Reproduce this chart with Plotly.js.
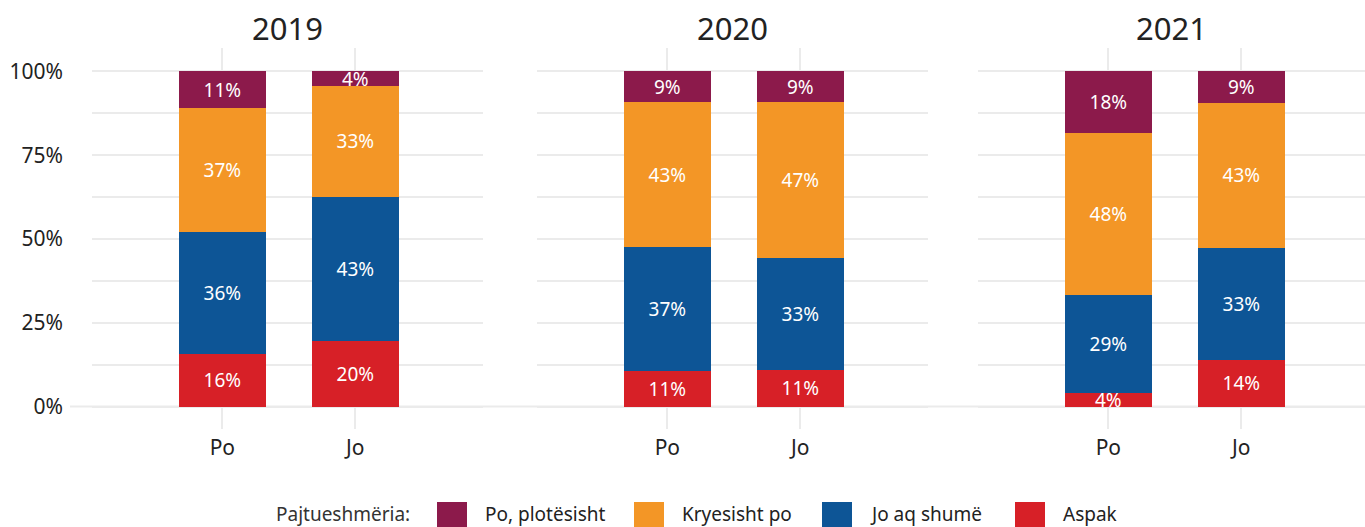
<!DOCTYPE html>
<html>
<head>
<meta charset="utf-8">
<script src="https://cdn.plot.ly/plotly-3.0.1.min.js"></script>
<style>
  html, body { margin: 0; padding: 0; background: #fff; }
  #chart { width: 1365px; height: 527px; }
</style>
</head>
<body>
<div id="chart"></div>
<script>
// facets and categories
var years = ['2019', '2020', '2021'];
var answers = ['Po', 'Jo'];

// share of answers, one pair [Po, Jo] per year
var aspak        = [[15.8, 19.6], [10.6, 11.0], [4.0, 13.9]];
var joAqShume    = [[36.2, 43.0], [37.0, 33.2], [29.2, 33.4]];
var kryesishtPo  = [[37.2, 33.0], [43.2, 46.8], [48.4, 43.4]];
var poPlotesisht = [[10.8, 4.4],  [9.2, 9.0],   [18.4, 9.3]];

// stacking order: bottom to top
var seriesNames = ['Aspak', 'Jo aq shumë', 'Kryesisht po', 'Po, plotësisht'];
var seriesData = [aspak, joAqShume, kryesishtPo, poPlotesisht];
var seriesColors = ['#d72027', '#0d5596', '#f39626', '#8c1a4b'];

// y axis ticks
var yTickVals = [0, 25, 50, 75, 100];
var yTickText = ['0%', '25%', '50%', '75%', '100%'];

// legend order as shown below the chart
var legendOrder = [3, 2, 1, 0];
var legendTitle = 'Pajtueshmëria:';

var W = 1365, H = 527;
var plotTop = 48, plotBottom = 429;
function px2x(px) { return px / W; }
function px2y(px) { return (plotBottom - px) / (plotBottom - plotTop); }

var font = 'Noto Sans, sans-serif';
var gridColor = '#ebebeb';

var traces = [];
seriesData.forEach(function(series, s) {
    years.forEach(function(yr, i) {
        traces.push({
            type: 'bar',
            name: seriesNames[s],
            x: answers,
            y: series[i],
            xaxis: i === 0 ? 'x' : 'x' + (i + 1),
            yaxis: 'y',
            width: 0.65,
            marker: { color: seriesColors[s], line: { width: 0 } },
            texttemplate: '%{y:.0f}%',
            textposition: 'inside',
            insidetextanchor: 'middle',
            constraintext: 'none',
            textangle: 0,
            textfont: { color: '#ffffff', size: 19, family: font },
            showlegend: false,
            hoverinfo: 'skip'
        });
    });
});

var domains = [[92, 483], [537, 928], [978, 1365]];
var ranges = [[-0.98, 1.96], [-0.98, 1.96], [-0.98, 1.93]];

function xAxis(i) {
    return {
        domain: [px2x(domains[i][0]), px2x(domains[i][1])],
        range: ranges[i],
        type: 'category',
        anchor: 'y',
        showgrid: true,
        gridcolor: gridColor,
        gridwidth: 1.5,
        zeroline: false,
        showline: false,
        ticks: '',
        ticklabelstandoff: 4,
        tickfont: { size: 21, color: '#222', family: font },
        fixedrange: true
    };
}

var annotations = years.map(function(yr, i) {
    return {
        text: yr,
        xref: 'paper', yref: 'paper',
        x: px2x((domains[i][0] + domains[i][1]) / 2),
        y: px2y(28),
        xanchor: 'center', yanchor: 'middle',
        showarrow: false,
        font: { size: 31, color: '#222', family: font }
    };
});

var shapes = [{
    type: 'line', layer: 'below',
    xref: 'paper', yref: 'y',
    x0: px2x(70), x1: 1, y0: 0, y1: 0,
    line: { color: gridColor, width: 2 }
}];

// legend drawn below the plot
var legendY = px2y(514);
annotations.push({
    text: legendTitle,
    xref: 'paper', yref: 'paper',
    x: px2x(275), y: legendY,
    xanchor: 'left', yanchor: 'middle',
    showarrow: false, borderpad: 0,
    font: { size: 19, color: '#333', family: font }
});
var swatchX = [437, 634, 822, 1015];
legendOrder.forEach(function(s, k) {
    shapes.push({
        type: 'rect', xref: 'paper', yref: 'paper',
        x0: px2x(swatchX[k]), x1: px2x(swatchX[k] + 30),
        y0: px2y(502), y1: px2y(535),
        fillcolor: seriesColors[s], line: { width: 0 }
    });
    annotations.push({
        text: seriesNames[s],
        xref: 'paper', yref: 'paper',
        x: px2x(swatchX[k] + 47), y: legendY,
        xanchor: 'left', yanchor: 'middle',
        showarrow: false, borderpad: 0,
        font: { size: 19, color: '#222', family: font }
    });
});

var layout = {
    width: W,
    height: H,
    margin: { l: 0, r: 0, t: plotTop, b: H - plotBottom, pad: 0 },
    paper_bgcolor: '#ffffff',
    plot_bgcolor: '#ffffff',
    barmode: 'stack',
    showlegend: false,
    font: { family: font, color: '#222' },
    xaxis: xAxis(0),
    xaxis2: xAxis(1),
    xaxis3: xAxis(2),
    yaxis: {
        range: [-6.7, 107],
        tickmode: 'array',
        tickvals: yTickVals,
        ticktext: yTickText,
        showgrid: true,
        gridcolor: gridColor,
        gridwidth: 1.5,
        minor: { dtick: 12.5, tick0: 0, showgrid: true, gridcolor: gridColor, gridwidth: 1.5 },
        zeroline: false,
        showline: false,
        ticks: '',
        ticklabelstandoff: 28,
        tickfont: { size: 21, color: '#222', family: font },
        fixedrange: true
    },
    annotations: annotations,
    shapes: shapes
};

Plotly.newPlot('chart', traces, layout, { displayModeBar: false, responsive: false });
</script>
</body>
</html>
